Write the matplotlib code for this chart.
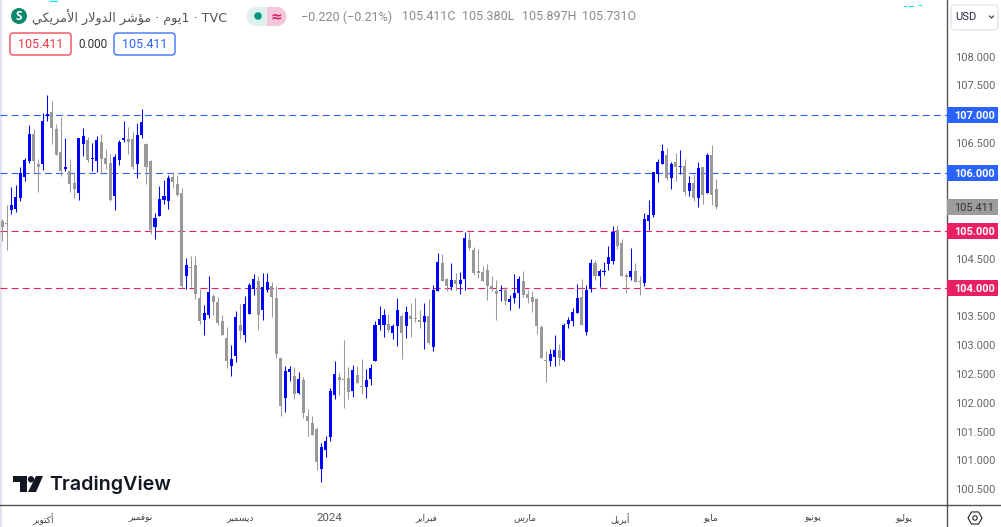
import matplotlib
matplotlib.use('Agg')
import matplotlib.pyplot as plt
from matplotlib.patches import Rectangle, FancyBboxPatch, Polygon, Circle, RegularPolygon
from matplotlib.transforms import Affine2D
import numpy as np

# daily candles
opens = [105.17,105.13,105.36,105.38,105.57,105.93,106.21,106.68,106.16,106.16,
         106.99,107.06,106.76,106.36,106.07,106.03,105.83,105.65,106.50,106.57,
         106.24,106.21,106.54,106.26,106.17,105.60,106.23,106.57,106.59,106.59,
         106.16,106.66,106.50,106.21,105.06,105.25,105.53,105.51,105.93,105.81,
         105.65,104.21,104.37,104.40,103.83,103.45,103.54,103.87,103.76,103.43,
         103.14,102.65,102.83,103.36,103.19,103.55,103.99,104.13,103.62,103.97,
         104.04,103.83,102.79,102.10,102.55,102.48,102.18,102.41,101.79,101.66,
         101.56,100.87,101.20,101.42,102.15,102.46,102.43,102.45,102.22,102.50,
         102.31,102.29,102.43,102.74,103.36,103.36,103.38,103.23,103.35,103.52,
         103.35,103.52,103.49,103.45,103.42,103.52,102.98,103.95,104.44,104.16,
         104.02,104.14,104.07,104.16,104.84,104.66,104.30,104.28,104.32,104.04,
         103.95,103.95,103.97,103.76,103.83,103.92,104.13,103.90,103.85,103.81,
         103.33,102.76,102.74,102.81,102.93,102.76,103.38,103.43,103.57,103.85,
         103.24,103.99,104.44,104.21,104.28,104.42,104.47,105.01,104.79,104.23,
         104.20,104.30,104.13,104.09,105.16,105.27,105.99,106.15,106.32,105.91,
         106.19,106.10,106.12,105.68,105.82,105.56,106.10,105.65,106.31,105.731]
closes = [105.06,105.12,105.45,105.58,106.00,106.23,106.68,106.21,106.10,106.90,
          107.02,106.78,106.31,106.03,106.10,105.81,105.72,106.61,106.64,106.23,
          106.26,106.57,106.24,106.16,105.53,106.28,106.54,106.61,106.54,106.10,
          106.66,106.88,106.10,105.01,105.22,105.55,105.60,105.91,105.84,105.62,
          104.04,104.40,104.35,103.90,103.43,103.57,103.94,103.76,103.40,103.19,
          102.74,102.78,103.50,103.26,103.73,104.06,104.16,103.54,104.02,104.11,
          103.85,102.86,101.96,102.57,102.60,102.17,102.43,101.84,101.70,101.46,
          100.99,101.25,101.35,102.22,102.51,102.41,102.41,102.20,102.58,102.36,
          102.29,102.41,102.62,103.36,103.47,103.54,103.28,103.35,103.62,103.23,
          103.59,103.47,103.47,103.42,103.52,103.05,103.97,104.46,104.13,104.04,
          104.14,104.07,104.14,104.87,104.70,104.27,104.27,104.13,104.04,103.99,
          103.90,103.97,103.78,103.81,103.92,104.16,103.88,103.83,103.76,103.35,
          102.79,102.74,102.86,102.93,102.79,103.36,103.45,103.59,103.83,103.36,
          103.97,104.44,104.21,104.30,104.30,104.54,104.98,104.73,104.21,104.20,
          104.30,104.11,104.11,105.20,105.27,106.01,106.19,106.38,105.91,106.15,
          106.10,106.12,105.67,105.82,105.56,106.08,105.61,106.31,105.61,105.411]
highs = [105.21,105.45,105.75,105.79,106.10,106.26,106.83,106.76,106.24,107.04,
         107.35,107.25,106.85,106.97,106.61,106.24,106.02,106.61,106.78,106.62,
         106.52,106.64,106.68,106.42,106.33,106.33,106.57,106.90,106.80,106.71,
         106.87,107.11,106.52,106.23,105.31,105.77,105.88,105.97,106.02,105.97,
         105.74,104.53,104.56,104.56,103.99,103.71,104.21,103.90,103.85,103.54,
         103.33,103.02,103.61,103.73,103.87,104.09,104.25,104.21,104.27,104.27,
         104.11,104.04,102.81,102.65,102.65,102.64,102.55,102.46,101.91,101.79,
         101.60,101.32,101.44,102.27,102.74,102.53,103.10,102.64,102.67,102.65,
         102.77,102.60,102.69,103.43,103.69,103.64,103.55,103.38,103.83,103.55,
         103.69,103.75,103.83,103.62,103.75,103.82,104.06,104.61,104.60,104.18,
         104.44,104.27,104.28,104.98,104.98,104.72,104.68,104.39,104.42,104.21,
         104.14,104.06,104.02,103.88,104.25,104.21,104.30,103.97,103.95,103.83,
         103.36,102.91,102.95,103.19,103.03,103.40,103.50,103.66,104.07,104.16,
         104.06,104.51,104.49,104.33,104.46,104.73,105.08,105.10,104.86,104.27,
         104.70,104.44,104.21,105.31,105.53,106.01,106.24,106.51,106.43,106.19,
         106.34,106.39,106.24,105.94,105.99,106.19,106.10,106.34,106.48,105.897]
lows = [104.82,104.66,105.29,105.32,105.51,105.86,106.17,106.02,105.67,106.05,
        106.90,106.50,106.31,105.95,106.03,105.67,105.57,105.53,106.29,106.19,
        106.03,106.02,105.98,106.07,105.51,105.36,106.14,106.54,106.33,106.07,
        105.91,106.61,105.81,104.94,104.86,105.25,105.46,105.38,105.74,105.60,
        104.01,103.99,104.02,103.82,103.38,103.19,103.49,103.54,103.36,103.19,
        102.62,102.48,102.72,103.12,103.07,103.55,103.88,103.28,103.45,103.94,
        103.50,102.79,101.79,101.86,102.39,102.08,102.17,101.75,101.44,101.46,
        100.85,100.64,101.08,101.35,102.08,102.15,101.92,102.08,102.12,102.36,
        102.17,102.10,102.32,102.74,103.28,103.16,103.24,103.12,103.00,102.77,
        103.14,103.16,103.42,103.31,102.95,103.04,102.91,103.95,104.13,103.95,
        103.97,103.97,103.90,103.97,104.66,104.23,104.18,104.13,103.80,103.95,
        103.45,103.78,103.71,103.62,103.75,103.66,103.85,103.75,103.59,103.21,
        102.79,102.38,102.65,102.65,102.67,102.74,103.31,103.35,103.57,103.36,
        103.19,103.94,104.14,104.02,104.23,104.32,104.42,104.68,104.21,103.92,
        104.14,104.11,103.88,104.04,105.02,105.23,105.84,106.15,105.87,105.73,
        105.86,105.98,105.61,105.60,105.51,105.41,105.46,105.65,105.44,105.380]

# the other levels sit behind badges
price_ticks = [100.5,101,101.5,102,102.5,103,103.5,104.5,106.5,107.5,108]
blue_levels = [107, 106]
red_levels = [105, 104]
last_price = 105.411

month_names = ['أكتوبر','نوفمبر','ديسمبر','2024','فبراير','مارس','أبريل','مايو','يونيو','يوليو']
month_pos = [9, 30.7, 53, 72.8, 94.4, 116.4, 137.6, 157.8, 180.5, 200.8]

up_col = '#0000FF'
down_col = '#999999'
blue_col = '#2962FF'
red_col = '#E91E63'
num_font = 'Roboto'

# matplotlib does no Arabic shaping, so pick the presentation forms here
# letter: isolated, final, initial, medial
forms = {'ا':(0xFE8D,0xFE8E),'أ':(0xFE83,0xFE84),'ؤ':(0xFE85,0xFE86),'د':(0xFEA9,0xFEAA),
         'ر':(0xFEAD,0xFEAE),'و':(0xFEED,0xFEEE),
         'ب':(0xFE8F,0xFE90,0xFE91,0xFE92),'ت':(0xFE95,0xFE96,0xFE97,0xFE98),
         'س':(0xFEB1,0xFEB2,0xFEB3,0xFEB4),'ش':(0xFEB5,0xFEB6,0xFEB7,0xFEB8),
         'ف':(0xFED1,0xFED2,0xFED3,0xFED4),'ك':(0xFED9,0xFEDA,0xFEDB,0xFEDC),
         'ل':(0xFEDD,0xFEDE,0xFEDF,0xFEE0),'م':(0xFEE1,0xFEE2,0xFEE3,0xFEE4),
         'ن':(0xFEE5,0xFEE6,0xFEE7,0xFEE8),'ي':(0xFEF1,0xFEF2,0xFEF3,0xFEF4)}
lam_alef = {'ا':(0xFEFB,0xFEFC),'أ':(0xFEF7,0xFEF8)}

def shape_ar(s):
    if s.isdigit():
        return s
    out = []
    i = 0
    joined = False
    while i < len(s):
        c = s[i]
        if c not in forms:
            out.append(c)
            joined = False
            i += 1
            continue
        if c == 'ل' and i + 1 < len(s) and s[i+1] in lam_alef:
            out.append(chr(lam_alef[s[i+1]][1 if joined else 0]))
            joined = False
            i += 2
            continue
        f = forms[c]
        nxt = s[i+1] if i + 1 < len(s) else ''
        can_join = len(f) == 4 and nxt in forms
        if joined and can_join:
            out.append(chr(f[3]))
        elif joined:
            out.append(chr(f[1]))
        elif can_join:
            out.append(chr(f[2]))
        else:
            out.append(chr(f[0]))
        joined = can_join
        i += 1
    return ''.join(reversed(out))

fig = plt.figure(figsize=(10.01, 5.27), dpi=100)
ax = fig.add_axes([0, 22/527, 947/1001, 505/527])
ax.set_xlim(-0.52, 210.39)
ax.set_ylim(100.246, 108.998)

# pixel coordinates of the 1001x527 picture, for the interface furniture
px = Affine2D().scale(1, -1).translate(0, 527)

# candles
x = np.arange(len(opens))
o, c, h, l = map(np.array, (opens, closes, highs, lows))
cols = [up_col if b > a else down_col for a, b in zip(o, c)]
wicks = ax.vlines(x, l, h, colors=cols, linewidth=0.75, zorder=3)
wicks.set_snap(True)
ax.bar(x, np.maximum(np.abs(c - o), 0.018), bottom=np.minimum(o, c), width=0.68, color=cols, linewidth=0, zorder=3)

# horizontal levels
for v in blue_levels:
    ax.axhline(v, color=blue_col, lw=0.8, dashes=(6.2, 3.8), zorder=2)
for v in red_levels:
    ax.axhline(v, color=red_col, lw=0.8, dashes=(6.2, 3.8), zorder=2)

# axes
for s in ['top', 'left']:
    ax.spines[s].set_visible(False)
for s in ['right', 'bottom']:
    ax.spines[s].set_color('#555555')
    ax.spines[s].set_linewidth(1.0)
ax.yaxis.tick_right()
ax.set_yticks(price_ticks)
ax.set_yticklabels(['%.3f' % v for v in price_ticks], fontfamily=num_font, fontsize=8.0, color='#666666')
ax.tick_params(axis='y', length=0, pad=5.5)
for t in ax.get_yticklabels():
    t.set_verticalalignment('center')
ax.set_xticks(month_pos)
ax.set_xticklabels([shape_ar(m) for m in month_names], fontfamily=['DejaVu Sans'], fontsize=6.5, color='#444444')
ax.tick_params(axis='x', length=0, pad=6)
for t, m in zip(ax.get_xticklabels(), month_names):
    if m == '2024':
        t.set_fontfamily(num_font)
        t.set_fontsize(8.2)
        t.set_color('#555555')

ax.plot([947, 947], [505, 527], color='#555555', lw=1.0, transform=px, clip_on=False)
ax.plot([947, 1001], [505, 505], color='#555555', lw=1.0, transform=px, clip_on=False)
ax.add_patch(Rectangle((0, 0), 1.5, 527, color='#E0E3EB', lw=0, transform=px, clip_on=False))

# price badges on the axis
yax = ax.get_yaxis_transform()
def badge(v, col, txt_col, bold=True):
    ax.add_patch(Rectangle((1.0, v - 0.139), 0.054, 0.278, facecolor=col, lw=0, transform=yax, clip_on=False, zorder=5))
    ax.text(1.029, v, '%.3f' % v, transform=yax, ha='center', va='center_baseline', color=txt_col, zorder=6,
            fontfamily=num_font, fontsize=7.9, fontweight='bold' if bold else 'normal', clip_on=False)
for v in blue_levels:
    badge(v, blue_col, 'white')
for v in red_levels:
    badge(v, red_col, 'white')
badge(last_price, '#9C9C9C', '#333333', bold=False)

# legend line
ax.add_patch(Circle((19, 16), 8, color='#0B8A6F', lw=0, transform=px, clip_on=False))
ax.text(19, 16.5, 'S', transform=px, color='white', ha='center', va='center', fontfamily='Open Sans', fontweight='bold', fontsize=8.5)
title = shape_ar('مؤشر الدولار الأمريكي') + ' · ' + shape_ar('يوم') + '1 · TVC'
ax.text(32, 17.5, title, transform=px, color='#555555', ha='left', va='center', fontfamily=['DejaVu Sans'], fontsize=9.2)

ax.add_patch(Circle((256, 16.5), 9.5, color='#DDF2EE', lw=0, transform=px, clip_on=False))
ax.add_patch(Circle((277, 16.5), 9.5, color='#F7C5D8', lw=0, transform=px, clip_on=False))
ax.add_patch(Rectangle((256, 7), 11, 19, color='#DDF2EE', lw=0, transform=px, clip_on=False))
ax.add_patch(Rectangle((267, 7), 10, 19, color='#F7C5D8', lw=0, transform=px, clip_on=False))
ax.add_patch(Circle((258, 16), 3.8, color='#089981', lw=0, transform=px, clip_on=False))
ax.text(276, 16, '≈', transform=px, color='#D81B60', ha='center', va='center', fontfamily='DejaVu Sans', fontsize=10, fontweight='bold')

stats = [('−0.220 (−0.21%)', 301), ('105.411C', 402), ('105.380L', 462), ('105.897H', 522), ('105.731O', 582)]
for s, sx in stats:
    ax.text(sx, 17, s, transform=px, color='#8A8A8A', ha='left', va='center', fontfamily=num_font, fontsize=9)

# bid / ask boxes
ax.add_patch(FancyBboxPatch((10, 33), 61, 22, boxstyle='round,pad=0,rounding_size=3', facecolor='white', edgecolor='#F23645', lw=0.9, transform=px, clip_on=False))
ax.add_patch(FancyBboxPatch((114, 33), 61, 22, boxstyle='round,pad=0,rounding_size=3', facecolor='white', edgecolor='#2962FF', lw=0.9, transform=px, clip_on=False))
ax.text(40.5, 44, '105.411', transform=px, color='#F23645', ha='center', va='center', fontfamily=num_font, fontsize=9)
ax.text(92.5, 44, '0.000', transform=px, color='#333333', ha='center', va='center', fontfamily=num_font, fontsize=8.4)
ax.text(144.5, 44, '105.411', transform=px, color='#2962FF', ha='center', va='center', fontfamily=num_font, fontsize=9)

# currency selector
ax.add_patch(FancyBboxPatch((951, 5), 47, 25, boxstyle='round,pad=0,rounding_size=4', facecolor='white', edgecolor='#E0E3EB', lw=0.9, transform=px, clip_on=False))
ax.text(955, 17.5, 'USD', transform=px, color='#222244', ha='left', va='center', fontfamily=num_font, fontsize=8)
ax.plot([989.5, 991.5, 993.5], [16, 18, 16], color='#333333', lw=0.8, transform=px, clip_on=False)

# settings icon
ax.add_patch(RegularPolygon((975, 518), 6, radius=7, orientation=np.pi/6, facecolor='white', edgecolor='#222222', lw=0.8, transform=px, clip_on=False))
ax.add_patch(Circle((975, 518), 2.2, facecolor='white', edgecolor='#222222', lw=0.8, transform=px, clip_on=False))

# TradingView logo
logo_col = '#131722'
ax.add_patch(Polygon([(13, 476), (27, 476), (27, 492), (20, 492), (20, 482), (13, 482)], color=logo_col, lw=0, transform=px, clip_on=False))
ax.add_patch(Circle((31, 479.3), 3.2, color=logo_col, lw=0, transform=px, clip_on=False))
ax.add_patch(Polygon([(36, 476), (43, 476), (36, 492), (28, 492)], color=logo_col, lw=0, transform=px, clip_on=False))
ax.text(49.5, 484.5, 'TradingView', transform=px, color=logo_col, ha='left', va='center', fontfamily='Inter', fontweight='semibold', fontsize=14.2)

# stray cyan specks at the top edge of the screenshot
ax.plot([904, 906], [6, 6], color='#00E5E5', lw=0.8, transform=px, clip_on=False)
ax.plot([909, 913], [5.5, 5.5], color='#00E5E5', lw=0.8, transform=px, clip_on=False)
ax.plot([919, 921], [4.5, 4.5], color='#00E5E5', lw=0.8, transform=px, clip_on=False)
ax.plot([50, 57], [0.5, 0.5], color='#00E5E5', lw=0.8, transform=px, clip_on=False)

fig.savefig('out.png', dpi=100)
